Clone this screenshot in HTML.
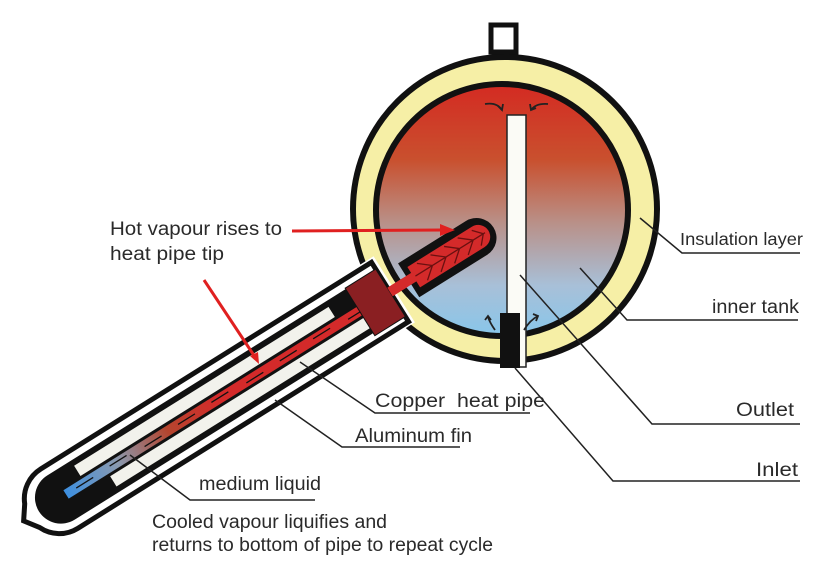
<!DOCTYPE html>
<html><head><meta charset="utf-8"><style>
html,body{margin:0;padding:0;background:#fff;}
svg{display:block;}
text{font-family:"Liberation Sans",sans-serif;fill:#2a2a2a;}
</style></head><body>
<svg width="838" height="575" viewBox="0 0 838 575" xmlns="http://www.w3.org/2000/svg">
<defs>
<linearGradient id="tank" x1="0" y1="0" x2="0" y2="1">
<stop offset="0" stop-color="#d42a22"/>
<stop offset="0.3" stop-color="#c9502e"/>
<stop offset="0.55" stop-color="#b99088"/>
<stop offset="0.8" stop-color="#a8c0d8"/>
<stop offset="1" stop-color="#88c6ea"/>
</linearGradient>
<linearGradient id="pipe" x1="0" y1="0" x2="1" y2="0">
<stop offset="0" stop-color="#3d8fe0"/>
<stop offset="0.15" stop-color="#8a9ab0"/>
<stop offset="0.3" stop-color="#b5452e"/>
<stop offset="0.45" stop-color="#d42a2a"/>
<stop offset="1" stop-color="#d42a2a"/>
</linearGradient>
</defs>

<rect x="491" y="25" width="25" height="27" fill="#fff" stroke="#111" stroke-width="5"/>
<circle cx="505" cy="209" r="152" fill="#f6efa6" stroke="#111" stroke-width="6"/>
<circle cx="502" cy="210" r="126" fill="url(#tank)" stroke="#111" stroke-width="6"/>
<rect x="507" y="115" width="19" height="252" fill="#fbfbf6" stroke="#222" stroke-width="1.5"/>
<rect x="500" y="313" width="20" height="55" fill="#111"/>
<g stroke="#222" stroke-width="1.8" fill="none">
<path d="M485 104 Q497 102 502 110"/><path d="M498 106 l4 4 l1 -6"/>
<path d="M548 104 Q536 103 531 110"/><path d="M530 104 l1 6 l5 -2"/>
<path d="M495 330 Q490 323 488 317"/><path d="M485 320 l3 -4 l3 4"/>
<path d="M524 330 Q530 320 538 316"/><path d="M533 314 l5 2 l-2 5"/>
</g>

<g transform="translate(390,292) rotate(-32)">
<path d="M5,-39 L-390,-39 A39,39 0 0 0 -390,39 L5,39 Z" fill="#fff"/>
<path d="M0,-35 L-390,-35 A35,35 0 0 0 -422,-14 L-432,0 L-422,14 A35,35 0 0 0 -390,35 L0,35 Z" fill="#fff" stroke="#111" stroke-width="5"/>
<path d="M-6,-26 L-388,-26 A26,26 0 0 0 -388,26 L-6,26 Z" fill="#111"/>
<rect x="-360" y="-20" width="300" height="12" fill="#f2f2ec"/>
<rect x="-335" y="8" width="305" height="12" fill="#f2f2ec"/>
<rect x="-382" y="-5" width="400" height="10" fill="url(#pipe)"/>
<g stroke="#111" stroke-width="1.3" fill="none">
<path d="M-370,0 h20 M-330,-1 h20 M-290,1 h20 M-250,0 h20 M-210,-1 h20 M-170,1 h20 M-130,0 h20 M-90,-1 h20 M-50,1 h20"/>
</g>
<rect x="-36" y="-27" width="36" height="56" fill="#8a1f22" stroke="#111" stroke-width="1"/>
<path d="M22,-20 L102,-20 A20,20 0 0 1 102,20 L22,20 Z" fill="#111"/>
<rect x="0" y="-5" width="32" height="10" fill="#d42a2a"/>
<path d="M28,-12 L104,-12 A12,12 0 0 1 104,12 L28,12 Z" fill="#d42a2a"/>
<g stroke="#6a1010" stroke-width="1.3" fill="none">
<path d="M38,-10 L50,0 L38,10 M54,-10 L66,0 L54,10 M70,-10 L82,0 L70,10 M86,-10 L98,0 L86,10 M102,-9 L110,0 L102,9 M30,0 H112"/>
</g>
</g>

<g stroke="#e02020" stroke-width="3" fill="#e02020">
<line x1="292" y1="231" x2="442" y2="230"/>
<line x1="204" y1="280" x2="255" y2="357"/>
</g>
<polygon points="455,230 440,224 440,236" fill="#e02020"/>
<polygon points="259,364 250,356 258,352" fill="#e02020"/>

<g stroke="#222" stroke-width="1.5" fill="none">
<polyline points="640,218 682,253 800,253"/>
<polyline points="580,268 627,320 798,320"/>
<polyline points="520,275 652,424 800,424"/>
<polyline points="515,368 613,481 800,481"/>
<polyline points="300,362 375,413 530,413"/>
<polyline points="275,400 342,447 460,447"/>
<polyline points="130,455 190,500 315,500"/>
</g>

<g font-size="19">
<text x="110" y="235" textLength="172" lengthAdjust="spacingAndGlyphs">Hot vapour rises to</text>
<text x="110" y="260" textLength="114" lengthAdjust="spacingAndGlyphs">heat pipe tip</text>
<text x="680" y="245" font-size="17.5" textLength="123" lengthAdjust="spacingAndGlyphs">Insulation layer</text>
<text x="712" y="313" textLength="87" lengthAdjust="spacingAndGlyphs">inner tank</text>
<text x="736" y="416" textLength="58" lengthAdjust="spacingAndGlyphs">Outlet</text>
<text x="756" y="476" textLength="42" lengthAdjust="spacingAndGlyphs">Inlet</text>
<text x="375" y="407" textLength="170" lengthAdjust="spacingAndGlyphs" xml:space="preserve">Copper  heat pipe</text>
<text x="355" y="442" textLength="117" lengthAdjust="spacingAndGlyphs">Aluminum fin</text>
<text x="199" y="490" textLength="122" lengthAdjust="spacingAndGlyphs">medium liquid</text>
<text x="152" y="528" textLength="235" lengthAdjust="spacingAndGlyphs">Cooled vapour liquifies and</text>
<text x="152" y="551" textLength="341" lengthAdjust="spacingAndGlyphs">returns to bottom of pipe to repeat cycle</text>
</g>
</svg>
</body></html>
